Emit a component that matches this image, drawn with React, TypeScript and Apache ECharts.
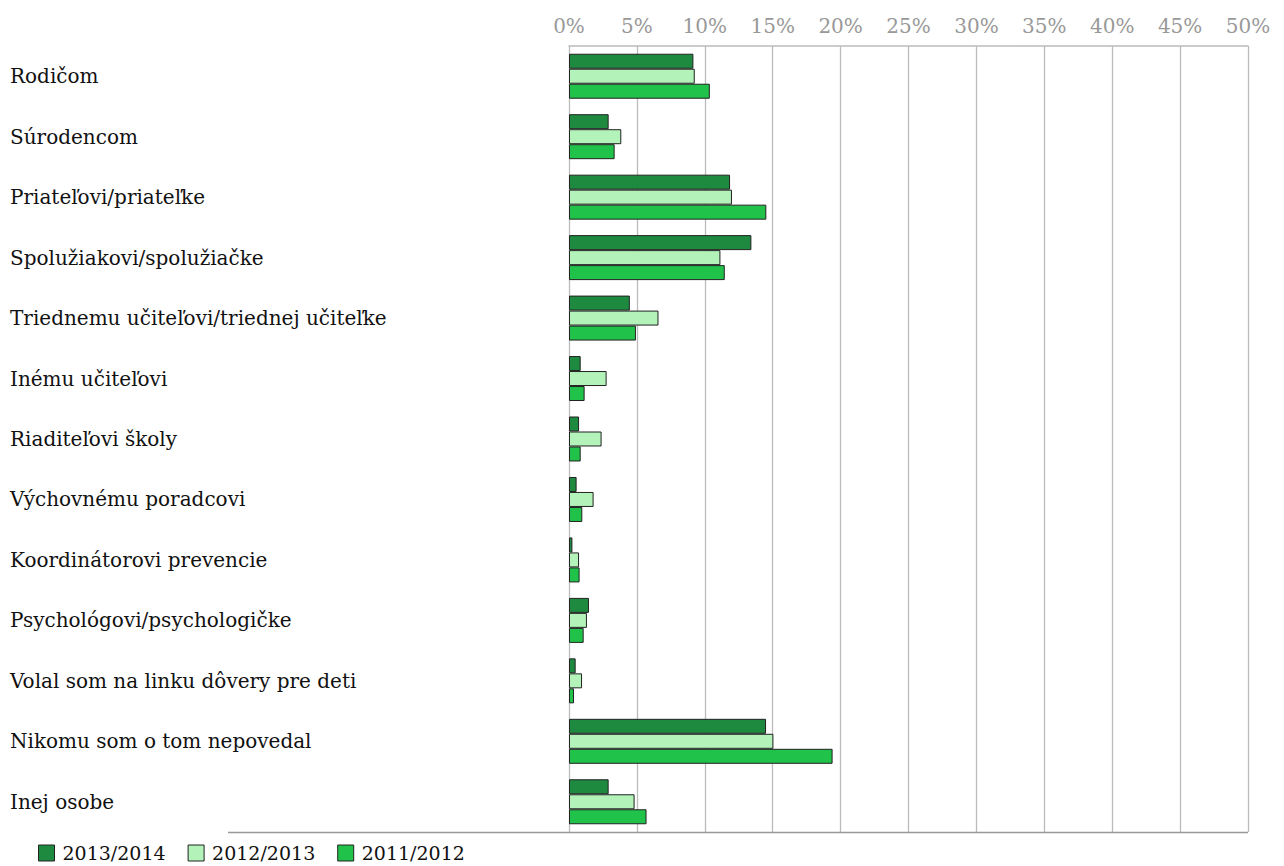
import React, { useEffect, useRef } from "react";
import * as echarts from "echarts";

const categories = [
  "Rodičom",
  "Súrodencom",
  "Priateľovi/priateľke",
  "Spolužiakovi/spolužiačke",
  "Triednemu učiteľovi/triednej učiteľke",
  "Inému učiteľovi",
  "Riaditeľovi školy",
  "Výchovnému poradcovi",
  "Koordinátorovi prevencie",
  "Psychológovi/psychologičke",
  "Volal som na linku dôvery pre deti",
  "Nikomu som o tom nepovedal",
  "Inej osobe",
];

const s2013_2014 = [9.16, 2.92, 11.86, 13.43, 4.48, 0.86, 0.74, 0.56, 0.25, 1.47, 0.49, 14.51, 2.92];
const s2012_2013 = [9.26, 3.85, 12.0, 11.15, 6.59, 2.77, 2.4, 1.81, 0.74, 1.32, 0.96, 15.05, 4.83];
const s2011_2012 = [10.37, 3.36, 14.53, 11.47, 4.93, 1.15, 0.86, 0.98, 0.78, 1.08, 0.37, 19.41, 5.71];

const seriesNames = ["2013/2014", "2012/2013", "2011/2012"];
const seriesColors = ["#1e8a40", "#b3f3b9", "#21c24a"];

const FONT = "'DejaVu Serif', 'Liberation Serif', serif";
const FS = 20;

export default function App() {
  const ref = useRef<HTMLDivElement>(null);
  useEffect(() => {
    document.body.style.margin = "0";
    if (!ref.current) return;
    const chart = echarts.init(ref.current, null, { renderer: "svg" });
    const data = [s2013_2014, s2012_2013, s2011_2012];
    chart.setOption({
      animation: false,
      textStyle: { fontFamily: FONT },
      grid: { left: 569, right: 36, top: 46, bottom: 34, containLabel: false },
      legend: {
        left: 38,
        top: 843,
        padding: 0,
        itemWidth: 16,
        itemHeight: 16,
        itemGap: 22,
        icon: "rect",
        itemStyle: { borderColor: "#222222", borderWidth: 1 },
        textStyle: { fontFamily: FONT, fontSize: 19, lineHeight: 20, color: "#111", padding: [0, 0, 0, 3] },
        data: seriesNames,
      },
      xAxis: {
        type: "value",
        position: "top",
        min: 0,
        max: 50,
        interval: 5,
        axisLine: { show: true, lineStyle: { color: "#bbbbbb", width: 1.5 } },
        axisTick: { show: false },
        axisLabel: {
          formatter: "{value}%",
          color: "#999999",
          fontFamily: FONT,
          fontSize: FS,
          margin: 10,
        },
        splitLine: { show: true, lineStyle: { color: "#bbbbbb", width: 1.3 } },
      },
      yAxis: {
        type: "category",
        data: categories,
        inverse: true,
        axisLine: { show: false },
        axisTick: { show: false },
        axisLabel: {
          align: "left",
          margin: 559,
          color: "#111",
          fontFamily: FONT,
          fontSize: FS,
        },
        splitLine: { show: false },
      },
      graphic: [
        {
          type: "line",
          shape: { x1: 228, y1: 832.5, x2: 1248, y2: 832.5 },
          style: { stroke: "#999999", lineWidth: 1.5 },
          z: 10,
        },
      ],
      series: seriesNames.map((name, i) => ({
        name,
        type: "bar",
        data: data[i],
        barGap: "0%",
        barCategoryGap: "25.6%",
        itemStyle: { color: seriesColors[i], borderColor: "#222222", borderWidth: 1 },
      })),
    });
    return () => chart.dispose();
  }, []);
  return <div ref={ref} style={{ width: 1284, height: 866 }} />;
}
